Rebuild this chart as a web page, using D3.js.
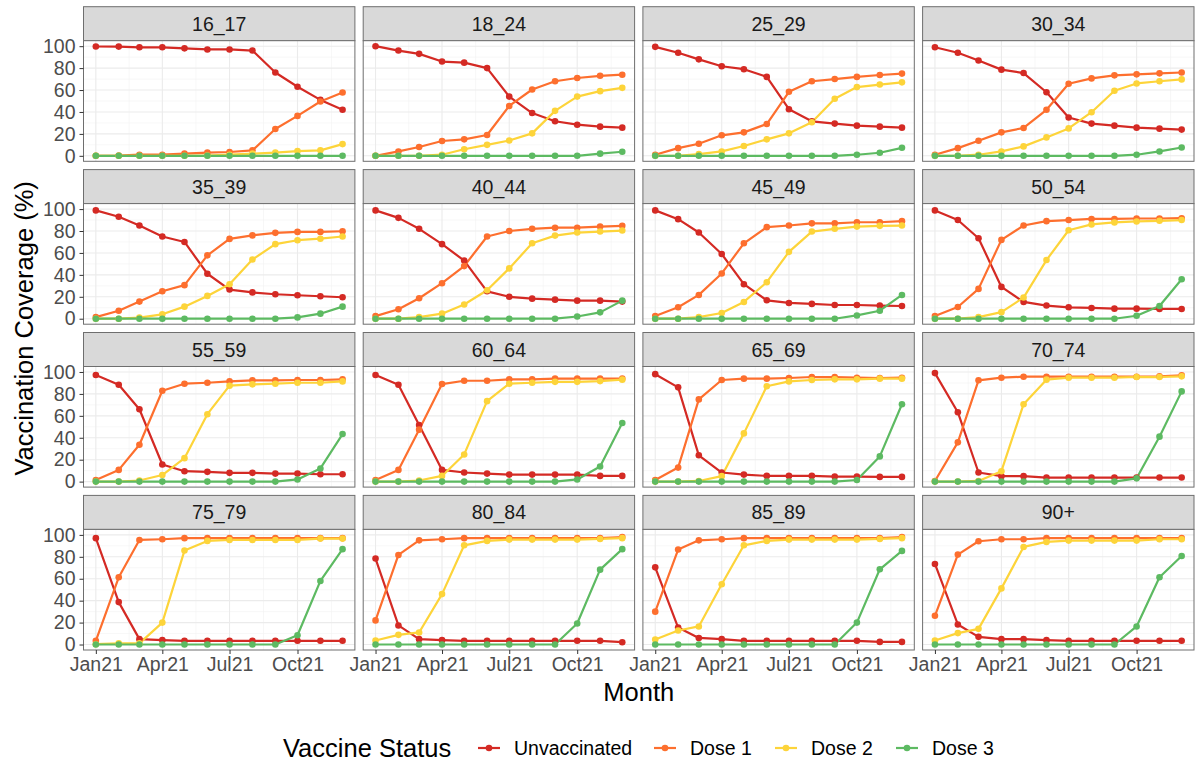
<!DOCTYPE html>
<html>
<head>
<meta charset="utf-8">
<script src="https://cdn.jsdelivr.net/npm/d3@7"></script>
<style>
  body { margin: 0; background: #fff; }
  svg { display: block; font-family: "Liberation Sans", Arial, sans-serif; }
</style>
</head>
<body>
<svg id="chart" width="1200" height="763"></svg>
<script>
// ---------- DATA ----------
const months = d3.range(12).map(m => new Date(2021, m, 1));
const tickDates = [new Date(2021,0,1), new Date(2021,3,1), new Date(2021,6,1), new Date(2021,9,1)];
const tickLabels = ["Jan21", "Apr21", "Jul21", "Oct21"];
const yTicks = [0, 20, 40, 60, 80, 100];
const statuses = ["Unvaccinated", "Dose 1", "Dose 2", "Dose 3"];
const colors = ["#D42A24", "#FD6F2E", "#FDD43A", "#5DBA62"];
const ageGroups = ["16_17","18_24","25_29","30_34","35_39","40_44","45_49","50_54",
                   "55_59","60_64","65_69","70_74","75_79","80_84","85_89","90+"];

const unvaccinated = {
  "16_17": [99.7, 99.6, 99, 99, 98, 97, 97, 96, 76, 63, 51, 42],
  "18_24": [100, 96, 93, 86, 85, 80, 54, 39, 31.5, 28.4, 26.6, 25.7],
  "25_29": [99.4, 94, 88, 81.7, 79, 72, 42.5, 31.5, 29.4, 27.5, 26.6, 25.7],
  "30_34": [99, 94, 87, 78.6, 75.5, 58, 35, 29.4, 27.5, 25.7, 24.8, 23.9],
  "35_39": [98.8, 93, 85, 75, 70, 41, 26.6, 24, 22.3, 21.4, 20.5, 19.6],
  "40_44": [98.8, 92, 82, 68, 53, 25, 20, 18.3, 17.4, 16.5, 16.5, 15.6],
  "45_49": [98.8, 90.8, 78.6, 59, 31.5, 16.8, 14.4, 13.5, 12.5, 12.5, 12, 11.6],
  "50_54": [98.8, 90, 73.4, 29, 15.3, 12, 10.4, 9.8, 9.2, 9.2, 8.9, 8.9],
  "55_59": [97.2, 88.4, 66, 15.6, 9.5, 8.9, 8, 8, 7.3, 7.3, 6.7, 6.7],
  "60_64": [97.2, 88.4, 51.7, 10.7, 8.3, 7.3, 6.4, 6.4, 6.4, 6.4, 5.2, 5.2],
  "65_69": [98, 86, 24, 8.3, 6.4, 5.2, 5.2, 5.2, 4.6, 4.6, 4.3, 4.3],
  "70_74": [99, 63.3, 8.3, 5, 5, 3.7, 3.7, 3.7, 3.7, 3.7, 3.7, 3.7],
  "75_79": [97, 38.7, 4.9, 4, 3.4, 3.4, 3.4, 3.4, 3.4, 3.4, 3.4, 3.4],
  "80_84": [78.4, 17.4, 4.9, 4, 3.4, 3.4, 3.4, 3.4, 3.4, 3.4, 3.4, 2.1],
  "85_89": [70.4, 15.5, 6, 4.9, 3.4, 3.4, 3.4, 3.4, 3.4, 3.4, 2.4, 2.4],
  "90+":   [73.5, 18.3, 7, 4.9, 4.9, 4, 3.4, 3.4, 3.4, 3.4, 3.4, 3.4]
};
const dose1 = {
  "16_17": [0, 0.3, 1, 1, 2, 3, 3.5, 5, 24.5, 36.4, 49.5, 57.8],
  "18_24": [0, 4, 8, 13.5, 15, 19, 45.5, 60.5, 68, 71, 73, 74],
  "25_29": [1, 7, 11, 18.7, 21.4, 29, 58.4, 68, 70, 72, 73.7, 75],
  "30_34": [1, 7, 13.8, 21.4, 25.4, 42, 65.7, 70.6, 73.4, 74.3, 75.2, 76],
  "35_39": [1.5, 7.3, 15.6, 25, 30.6, 57.8, 72.8, 76, 78.3, 79.2, 79.2, 79.8],
  "40_44": [2.4, 8.6, 18.7, 32.4, 48, 75, 80, 82, 83, 83, 84, 84.7],
  "45_49": [2.4, 10.4, 21.7, 41.3, 68.8, 83.5, 85, 87, 87, 88, 88, 89],
  "50_54": [2.4, 10.7, 27.2, 71.9, 85, 89, 90, 91, 91, 91.4, 91.4, 91.7],
  "55_59": [1.5, 10.7, 33.6, 82.9, 89.3, 90.2, 91.4, 92.4, 92.4, 92.7, 92.7, 93.3],
  "60_64": [1.5, 10.7, 47.4, 89, 92, 92, 93.3, 93.3, 93.9, 93.9, 93.9, 93.9],
  "65_69": [1.5, 12.8, 75, 92.7, 93.9, 93.9, 94.5, 95.4, 95.4, 94.8, 94.5, 94.8],
  "70_74": [0.6, 35.8, 92.4, 94.8, 95.7, 95.7, 95.7, 95.7, 95.7, 95.7, 96, 97],
  "75_79": [3.4, 61.3, 95.4, 96, 97, 97, 97, 97, 97, 97, 97, 97],
  "80_84": [22, 81.7, 95, 96, 97, 97, 97, 97, 97, 97, 97, 98],
  "85_89": [30, 86.6, 95, 96, 97, 97, 97, 97, 97, 97, 97, 98],
  "90+":   [26.2, 82, 94.2, 96, 96, 97, 97, 97, 97, 97, 97, 97]
};
const dose2 = {
  "16_17": [0, 0, 0, 0, 0, 0.3, 1, 2, 3, 4.3, 5, 10.7],
  "18_24": [0, 0, 0, 1, 6, 10, 14, 20.5, 41, 54, 59, 62],
  "25_29": [0, 0, 1.5, 4, 9, 15, 20.5, 30.6, 52, 62.7, 65, 67],
  "30_34": [0, 0, 1, 4, 8.6, 16.8, 25, 39.8, 59.3, 66, 68, 69.7],
  "35_39": [0, 0, 1, 4, 11, 20.8, 31.5, 54, 68, 71.6, 73, 75],
  "40_44": [0, 0, 1.5, 4.6, 13, 26, 45.9, 68.8, 75.8, 78.6, 79.5, 80.4],
  "45_49": [0, 0, 1.5, 5.2, 15.3, 33.3, 61, 79.5, 82, 84, 84.7, 85],
  "50_54": [0, 0, 1.5, 6, 19.3, 53.5, 80.7, 86, 87.8, 88.7, 89.3, 90],
  "55_59": [0, 0, 1, 6, 21.4, 61.5, 87.5, 88.7, 89.3, 90.2, 90.2, 91.4],
  "60_64": [0, 0, 1, 5.2, 24.8, 73.4, 89.3, 90.2, 91, 91, 91.7, 93],
  "65_69": [0, 0, 0.6, 5, 44, 87, 91.4, 92.7, 93.3, 93.3, 93.9, 93.9],
  "70_74": [0, 0, 0.6, 9.5, 70.6, 93, 94.8, 94.8, 94.8, 95.4, 95.4, 96],
  "75_79": [0.3, 1, 1, 20, 85.7, 94.5, 95.4, 95.4, 95.4, 95.4, 96.6, 96.6],
  "80_84": [3.7, 8.8, 11, 46, 90.5, 94.5, 95.7, 95.7, 95.7, 95.7, 96.3, 97],
  "85_89": [4.6, 12.8, 16.5, 55, 90.5, 94.5, 95.7, 95.7, 95.7, 95.7, 96.3, 97],
  "90+":   [3.7, 10.4, 14.3, 51.2, 89, 93.6, 94.8, 94.8, 94.8, 94.8, 96, 96]
};
const dose3 = {
  "16_17": [0, 0, 0, 0, 0, 0, 0, 0, 0, 0, 0, 0],
  "18_24": [0, 0, 0, 0, 0, 0, 0, 0, 0, 0, 2, 3.7],
  "25_29": [0, 0, 0, 0, 0, 0, 0, 0, 0, 1, 2.8, 7.3],
  "30_34": [0, 0, 0, 0, 0, 0, 0, 0, 0, 1, 4, 7.6],
  "35_39": [0, 0, 0, 0, 0, 0, 0, 0, 0, 1.2, 4.6, 11],
  "40_44": [0, 0, 0, 0, 0, 0, 0, 0, 0, 2, 5.8, 16.5],
  "45_49": [0, 0, 0, 0, 0, 0, 0, 0, 0, 3, 7.3, 21.7],
  "50_54": [0, 0, 0, 0, 0, 0, 0, 0, 0, 2.7, 11.6, 36],
  "55_59": [0, 0, 0, 0, 0, 0, 0, 0, 0, 2, 12, 43.4],
  "60_64": [0, 0, 0, 0, 0, 0, 0, 0, 0, 2, 13.8, 53.5],
  "65_69": [0, 0, 0, 0, 0, 0, 0, 0, 0, 1.5, 23, 70.6],
  "70_74": [0, 0, 0, 0, 0, 0, 0, 0, 0, 3, 41, 82.3],
  "75_79": [0, 0, 0, 0, 0, 0, 0, 0, 0, 8.5, 58, 87],
  "80_84": [0, 0, 0, 0, 0, 0, 0, 0, 0, 19.2, 68.3, 87],
  "85_89": [0, 0, 0, 0, 0, 0, 0, 0, 0, 20, 68.6, 85.4],
  "90+":   [0, 0, 0, 0, 0, 0, 0, 0, 0, 16.5, 61.3, 80.8]
};
const seriesValues = [unvaccinated, dose1, dose2, dose3];

// ---------- LAYOUT ----------
const svg = d3.select("#chart");
const areaLeft = 83.5, areaRight = 1194, areaTop = 6.7, areaBottom = 650;
const gapX = 8.3, gapY = 8.3, stripH = 34;
const nCol = 4, nRow = 4;
const cellW = (areaRight - areaLeft - gapX * (nCol - 1)) / nCol;
const cellH = (areaBottom - areaTop - gapY * (nRow - 1)) / nRow;
const plotH = cellH - stripH;

const pad = (months[11] - months[0]) * 0.05;
const x = d3.scaleTime()
  .domain([new Date(+months[0] - pad), new Date(+months[11] + pad)])
  .range([0, cellW]);
const y = d3.scaleLinear().domain([-5, 105]).range([plotH, 0]);

// minor gridlines (midpoints)
const majorX = tickDates.concat([new Date(2022,0,1)]);
const minorX = d3.range(majorX.length - 1).map(i => new Date((+majorX[i] + +majorX[i+1]) / 2));
const minorY = [10, 30, 50, 70, 90];

const line = d3.line().x((d, i) => x(months[i])).y(d => y(d));

ageGroups.forEach((g, idx) => {
  const col = idx % nCol, row = Math.floor(idx / nCol);
  const gx = areaLeft + col * (cellW + gapX);
  const gy = areaTop + row * (cellH + gapY);
  const cell = svg.append("g").attr("transform", `translate(${gx},${gy})`);

  // strip
  cell.append("rect").attr("x", 0).attr("y", 0).attr("width", cellW).attr("height", stripH)
    .attr("fill", "#D9D9D9").attr("stroke", "#6E6E6E").attr("stroke-width", 1);
  cell.append("text").attr("x", cellW / 2).attr("y", stripH / 2).attr("dy", "0.36em")
    .attr("text-anchor", "middle").attr("font-size", 19.5).attr("fill", "#1A1A1A").text(g);

  const p = cell.append("g").attr("transform", `translate(0,${stripH})`);
  p.append("rect").attr("width", cellW).attr("height", plotH).attr("fill", "#fff");
  const clipId = "clip" + idx;
  p.append("clipPath").attr("id", clipId).append("rect").attr("width", cellW).attr("height", plotH);
  const grid = p.append("g").attr("clip-path", `url(#${clipId})`);
  grid.selectAll(".minx").data(minorX).enter().append("line")
    .attr("x1", d => x(d)).attr("x2", d => x(d)).attr("y1", 0).attr("y2", plotH)
    .attr("stroke", "#F2F2F2").attr("stroke-width", 0.6);
  grid.selectAll(".miny").data(minorY).enter().append("line")
    .attr("y1", d => y(d)).attr("y2", d => y(d)).attr("x1", 0).attr("x2", cellW)
    .attr("stroke", "#F2F2F2").attr("stroke-width", 0.6);
  grid.selectAll(".majx").data(tickDates).enter().append("line")
    .attr("x1", d => x(d)).attr("x2", d => x(d)).attr("y1", 0).attr("y2", plotH)
    .attr("stroke", "#EBEBEB").attr("stroke-width", 1.1);
  grid.selectAll(".majy").data(yTicks).enter().append("line")
    .attr("y1", d => y(d)).attr("y2", d => y(d)).attr("x1", 0).attr("x2", cellW)
    .attr("stroke", "#EBEBEB").attr("stroke-width", 1.1);

  const marks = p.append("g").attr("clip-path", `url(#${clipId})`);
  seriesValues.forEach((s, si) => {
    marks.append("path").datum(s[g]).attr("d", line).attr("fill", "none")
      .attr("stroke", colors[si]).attr("stroke-width", 2.2).attr("stroke-linejoin", "round");
  });
  seriesValues.forEach((s, si) => {
    marks.selectAll(null).data(s[g]).enter().append("circle")
      .attr("cx", (d, i) => x(months[i])).attr("cy", d => y(d)).attr("r", 3.3)
      .attr("fill", colors[si]);
  });

  p.append("rect").attr("width", cellW).attr("height", plotH).attr("fill", "none")
    .attr("stroke", "#6E6E6E").attr("stroke-width", 1);

  // axes
  if (col === 0) {
    const ya = p.append("g").call(d3.axisLeft(y).tickValues(yTicks).tickSize(4).tickPadding(4));
    ya.select(".domain").remove();
    ya.selectAll("line").attr("stroke", "#333");
    ya.selectAll("text").attr("font-size", 19.5).attr("fill", "#4D4D4D")
      .attr("font-family", "Liberation Sans, Arial, sans-serif");
  }
  if (row === nRow - 1) {
    const xa = p.append("g").attr("transform", `translate(0,${plotH})`)
      .call(d3.axisBottom(x).tickValues(tickDates).tickFormat((d, i) => tickLabels[i]).tickSize(4).tickPadding(3));
    xa.select(".domain").remove();
    xa.selectAll("line").attr("stroke", "#333");
    xa.selectAll("text").attr("font-size", 19.5).attr("fill", "#4D4D4D")
      .attr("font-family", "Liberation Sans, Arial, sans-serif");
  }
});

// axis titles
svg.append("text").attr("transform", `translate(33,${(areaTop + areaBottom) / 2}) rotate(-90)`)
  .attr("text-anchor", "middle").attr("font-size", 25.5).attr("fill", "#000")
  .text("Vaccination Coverage (%)");
svg.append("text").attr("x", (areaLeft + areaRight) / 2).attr("y", 701)
  .attr("text-anchor", "middle").attr("font-size", 25.5).attr("fill", "#000").text("Month");

// legend
const legY = 748;
svg.append("text").attr("x", 283).attr("y", legY).attr("dy", "0.36em")
  .attr("font-size", 25.5).attr("fill", "#000").text("Vaccine Status");
const legTextX = [514, 690, 811, 932];
statuses.forEach((s, i) => {
  const kx = legTextX[i] - 25;
  svg.append("line").attr("x1", kx - 11).attr("x2", kx + 11).attr("y1", legY).attr("y2", legY)
    .attr("stroke", colors[i]).attr("stroke-width", 2.2);
  svg.append("circle").attr("cx", kx).attr("cy", legY).attr("r", 3.3).attr("fill", colors[i]);
  svg.append("text").attr("x", legTextX[i]).attr("y", legY).attr("dy", "0.36em")
    .attr("font-size", 19.5).attr("fill", "#000").text(s);
});
</script>
</body>
</html>
